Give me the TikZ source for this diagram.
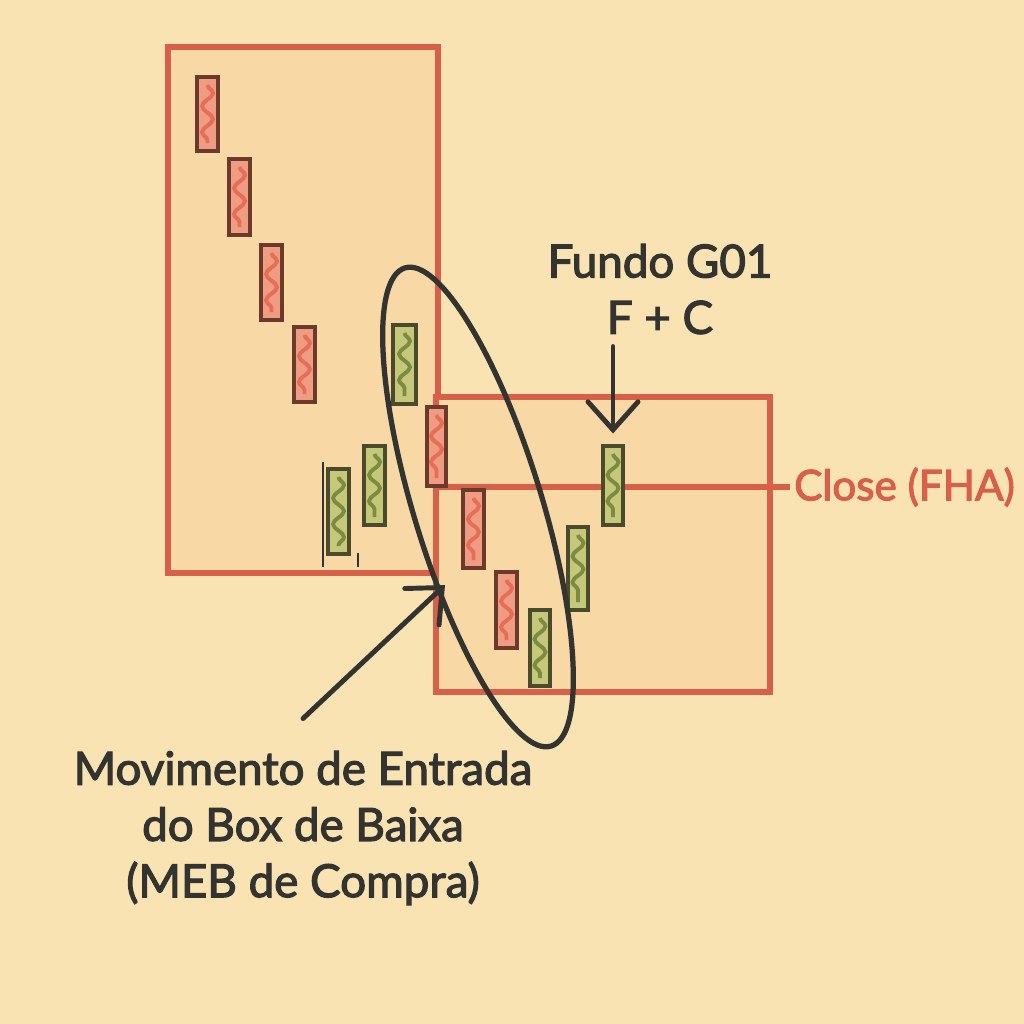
\documentclass[tikz,border=0pt]{standalone}
\usepackage{fontspec}
\setmainfont{Lato}[FakeBold=2.6]
\usetikzlibrary{arrows.meta,decorations.pathmorphing,positioning}

\definecolor{paper}{HTML}{F9E3B3}
\definecolor{boxfill}{HTML}{F8D8A4}
\definecolor{boxline}{HTML}{D8604A}
\definecolor{bearfill}{HTML}{EF9C82}
\definecolor{bearline}{HTML}{6A3A2A}
\definecolor{bearwave}{HTML}{E56E58}
\definecolor{bullfill}{HTML}{C5C878}
\definecolor{bullline}{HTML}{4A4A2C}
\definecolor{bullwave}{HTML}{7D8A42}
\definecolor{ink}{HTML}{333330}

\tikzset{
  zone/.style={draw=boxline, fill=boxfill, line width=1.5pt},
  candle/.style={rectangle, draw, line width=1.4pt, minimum width=0.21cm, inner sep=0pt},
  bear/.style={candle, draw=bearline, fill=bearfill,
    path picture={\draw[bearwave, line width=1.1pt, decorate,
      decoration={snake, amplitude=0.055cm, segment length=0.26cm}]
      ([yshift=-0.08cm]path picture bounding box.north) -- ([yshift=0.08cm]path picture bounding box.south);}},
  bull/.style={candle, draw=bullline, fill=bullfill,
    path picture={\draw[bullwave, line width=1.1pt, decorate,
      decoration={snake, amplitude=0.055cm, segment length=0.26cm}]
      ([yshift=-0.08cm]path picture bounding box.north) -- ([yshift=0.08cm]path picture bounding box.south);}},
  note/.style={align=center, text=ink, font=\fontsize{13}{16}\selectfont},
  pointer/.style={ink, line width=1.4pt, line cap=round, -{Straight Barb[length=0.28cm, width=0.5cm, line cap=round]}}
}

\begin{document}
\begin{tikzpicture}[x=0.01cm, y=-0.01cm]
    \fill[paper] (0,0) rectangle (1024,1024);
    \useasboundingbox (0,0) rectangle (1024,1024);

    % boxes
    \draw[zone] (168,47) rectangle (438,573);
    \draw[zone] (436,397) rectangle (770,692);

    % close line
    \node[text=boxline, font=\fontsize{12}{15}\selectfont, anchor=west, inner sep=1pt] (close) at (790,487) {Close (FHA)};
    \coordinate (closestart) at (436,487);
    \draw[boxline, line width=1.5pt] (closestart) -- (close.west);

    % small ticks under the first green bars
    \draw[ink, line width=0.4pt] (323,462) -- (323,567);
    \draw[ink, line width=0.4pt] (358,553) -- (358,567);

    % candles going down
    \node[bear, minimum height=0.74cm] (c1) at (207.5,114) {};
    \node[bear, minimum height=0.76cm] (c2) at (239.5,197) {};
    \node[bear, minimum height=0.75cm] (c3) at (271.5,282.5) {};
    \node[bear, minimum height=0.75cm] (c4) at (304.5,364.5) {};
    \node[bull, minimum height=0.85cm] (c5) at (338.5,511.5) {};
    \node[bull, minimum height=0.79cm] (c6) at (374.5,485.5) {};
    \node[bull, minimum height=0.79cm, minimum width=0.23cm] (c7) at (404.5,364.5) {};
    \node[bear, minimum height=0.79cm, minimum width=0.19cm] (c8) at (436.5,446.5) {};
    \node[bear, minimum height=0.78cm] (c9) at (473.5,529) {};
    \node[bear, minimum height=0.76cm] (c10) at (506.5,610) {};
    % candles going up
    \node[bull, minimum height=0.76cm, minimum width=0.20cm] (c11) at (540,648) {};
    \node[bull, minimum height=0.83cm, minimum width=0.20cm] (c12) at (578,568.5) {};
    \node[bull, minimum height=0.79cm, minimum width=0.20cm] (c13) at (613,485.5) {};

    % ellipse round the entry move
    \draw[ink, line width=1.5pt] (478,507) ellipse [x radius=64, y radius=250, rotate=17];

    % labels
    \node[note] (fundo) at (660,289) {Fundo G01\\F + C};
    \draw[pointer, shorten >=0.1cm] (c13.north |- fundo.south) -- (c13.north);

    \node[note] (meb) at (303,828) {Movimento de Entrada\\do Box de Baixa\\(MEB de Compra)};
    \coordinate (mebtip) at (445,585);
    \draw[pointer] ([yshift=0.2cm]meb.north) -- (mebtip);
\end{tikzpicture}
\end{document}
